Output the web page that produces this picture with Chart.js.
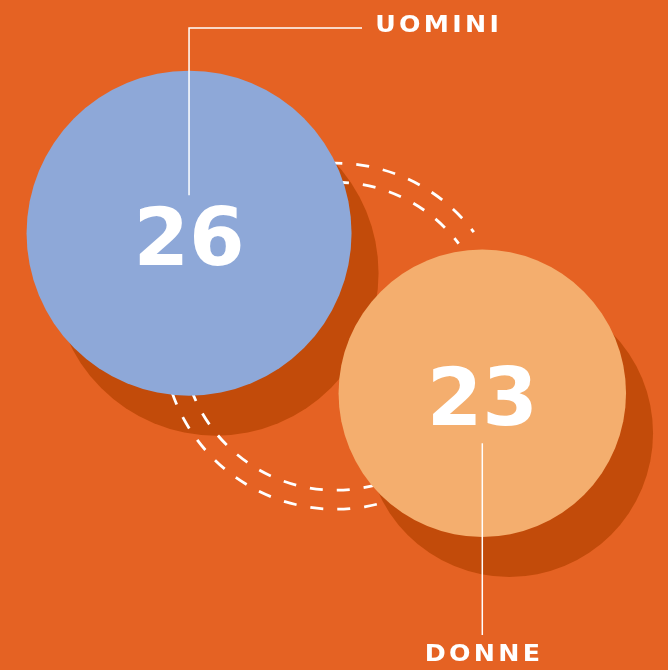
<!DOCTYPE html>
<html>
<head>
<meta charset="utf-8">
<script src="https://cdn.jsdelivr.net/npm/chart.js@4/dist/chart.umd.min.js"></script>
<style>
  html, body { margin: 0; padding: 0; background: #E56223; }
  #wrap { width: 668px; height: 670px; }
</style>
</head>
<body>
<div id="wrap"><canvas id="bolle" width="668" height="670"></canvas></div>
<script>
let categorie = ['UOMINI', 'DONNE'];
let valori = [26, 23];
let posX = [28.3, 72.2];
let posY = [65.2, 41.3];
let colori = ['#8EA8D8', '#F4AE6E'];

let sfondo = '#E56223';
let ombra = '#C24B0A';

let bolleData = {
    labels: categorie,
    datasets: [{
        data: valori.map(function(v, i) {
            return { x: posX[i], y: posY[i], r: v * 6.25 };
        }),
        backgroundColor: colori,
        borderWidth: 0,
        hoverBorderWidth: 0,
        hoverRadius: 0,
        clip: false
    }]
};

// scrive un'etichetta allargata in orizzontale, centrata su cx
function etichetta(ctx, testo, cx, y) {
    ctx.save();
    ctx.font = 'bold 23px "DejaVu Sans"';
    ctx.letterSpacing = '3px';
    ctx.textAlign = 'left';
    let w = (ctx.measureText(testo).width - 3) * 1.1;
    ctx.translate(cx - w / 2, y);
    ctx.scale(1.1, 1);
    ctx.fillText(testo, 0, 0);
    ctx.restore();
}

// ombre e archi tratteggiati sotto le bolle, numeri ed etichette sopra
let decorazioni = {
    id: 'decorazioni',
    beforeDatasetsDraw: function(chart) {
        let ctx = chart.ctx;
        let punti = chart.getDatasetMeta(0).data;
        ctx.save();
        ctx.fillStyle = ombra;
        punti.forEach(function(p) {
            ctx.beginPath();
            ctx.arc(p.x + 27, p.y + 40, p.options.radius, 0, Math.PI * 2);
            ctx.fill();
        });

        let cx = (punti[0].x + punti[1].x) / 2;
        let cy = (punti[0].y + punti[1].y) / 2 + 23;
        ctx.strokeStyle = '#fff';
        ctx.lineWidth = 2.8;
        ctx.setLineDash([13, 14]);
        [154, 173].forEach(function(r) {
            ctx.beginPath();
            ctx.arc(cx, cy, r, -110 * Math.PI / 180, -37 * Math.PI / 180);
            ctx.stroke();
            ctx.beginPath();
            ctx.arc(cx, cy, r, 170 * Math.PI / 180, 60 * Math.PI / 180, true);
            ctx.stroke();
        });
        ctx.restore();
    },
    afterDatasetsDraw: function(chart) {
        let ctx = chart.ctx;
        let punti = chart.getDatasetMeta(0).data;
        let a = punti[0], b = punti[1];
        ctx.save();

        // linee guida
        ctx.strokeStyle = '#fff';
        ctx.lineWidth = 1.5;
        ctx.beginPath();
        ctx.moveTo(a.x, a.y - 38);
        ctx.lineTo(a.x, 28);
        ctx.lineTo(362, 28);
        ctx.stroke();
        ctx.beginPath();
        ctx.moveTo(b.x, b.y + 50);
        ctx.lineTo(b.x, 635);
        ctx.stroke();

        // numeri
        ctx.fillStyle = '#fff';
        ctx.textAlign = 'center';
        ctx.textBaseline = 'alphabetic';
        ctx.font = 'bold 80px "DejaVu Sans"';
        ctx.fillText(String(valori[0]), a.x, a.y + 32);
        ctx.fillText(String(valori[1]), b.x, b.y + 32);

        // etichette
        etichetta(ctx, categorie[0], 437, 32);
        etichetta(ctx, categorie[1], b.x, 661);
        ctx.restore();
    }
};

let bolleChart = new Chart(document.getElementById('bolle'), {
    type: 'bubble',
    data: bolleData,
    plugins: [decorazioni],
    options: {
        responsive: false,
        animation: false,
        layout: { padding: 0, autoPadding: false },
        scales: {
            x: { display: false, min: 0, max: 100 },
            y: { display: false, min: 0, max: 100 }
        },
        plugins: {
            legend: { display: false },
            tooltip: { enabled: false }
        },
        events: []
    }
});
</script>
</body>
</html>
